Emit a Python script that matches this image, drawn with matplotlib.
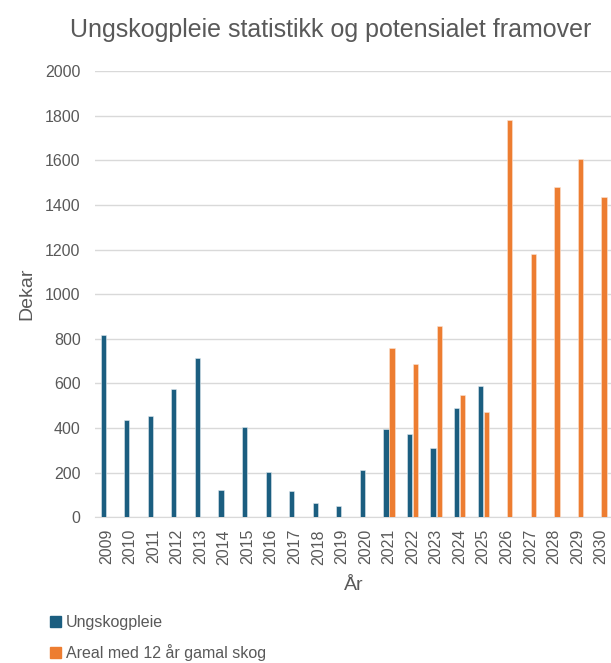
import matplotlib
matplotlib.use("Agg")
import matplotlib.pyplot as plt
import numpy as np
from matplotlib.patches import Patch

years = [str(y) for y in range(2009, 2031)]
ungskogpleie = [816, 435, 456, 577, 713, 121, 404, 203, 118, 63, 49, 212,
                396, 373, 310, 492, 589, None, None, None, None, None]
areal = [None] * 12 + [757, 686, 856, 546, 474, 1782, 1181, 1478, 1606, 1437]
yticks = [0, 200, 400, 600, 800, 1000, 1200, 1400, 1600, 1800, 2000]

blue = "#1b5e80"
orange = "#ed7d31"
grey = "#595959"

plt.rcParams['font.family'] = ['Liberation Sans', 'DejaVu Sans']

fig = plt.figure(figsize=(6.11, 6.63), dpi=100)
W, H = 611, 663
ax = fig.add_axes([94.5 / W, 145.7 / H, (612.8 - 94.5) / W, (517.3 - 71) / H])

x = np.arange(len(years))
bw = 0.22
bx, bv = zip(*[(i, v) for i, v in enumerate(ungskogpleie) if v is not None])
ox, ov = zip(*[(i, v) for i, v in enumerate(areal) if v is not None])
ax.bar(np.array(bx) - bw / 2 - 0.02, bv, width=bw, color=blue, edgecolor="#dfe9ef", linewidth=0.4, zorder=3)
ax.bar(np.array(ox) + bw / 2 + 0.02, ov, width=bw, color=orange, edgecolor="#fbe3d3", linewidth=0.4, zorder=3)

ax.set_xlim(-0.5, len(years) - 0.5)
ax.set_ylim(0, 2000)
ax.set_yticks(yticks)
ax.set_yticklabels([str(t) for t in yticks], fontsize=11.5, color=grey)
ax.set_xticks(x)
ax.set_xticklabels(years, rotation=90, fontsize=11.5, color=grey)
ax.yaxis.grid(True, color="#d9d9d9", linewidth=1.0, zorder=0)
ax.set_axisbelow(True)
for s in ["top", "right", "left"]:
    ax.spines[s].set_visible(False)
ax.spines["bottom"].set_color("#d9d9d9")
ax.tick_params(axis="y", length=0, pad=10)
ax.tick_params(axis="x", length=0, pad=8.5)
ax.set_ylabel("Dekar", fontsize=14, color=grey, labelpad=7)
ax.set_xlabel("År", fontsize=14, color=grey, labelpad=9)

fig.text(331 / W, 1 - 30 / H, "Ungskogpleie statistikk og potensialet framover",
         ha="center", va="center", fontsize=18, color=grey)

handles = [Patch(facecolor=blue, edgecolor=blue), Patch(facecolor=orange, edgecolor=orange)]
fig.legend(handles, ["Ungskogpleie", "Areal med 12 år gamal skog"],
           loc="upper left", bbox_to_anchor=(36 / W, 1 - 601 / H), frameon=False,
           fontsize=11.5, labelcolor=grey, handlelength=0.65, handleheight=0.65,
           handletextpad=0.3, labelspacing=0.85)

fig.savefig("out.png", dpi=100)
